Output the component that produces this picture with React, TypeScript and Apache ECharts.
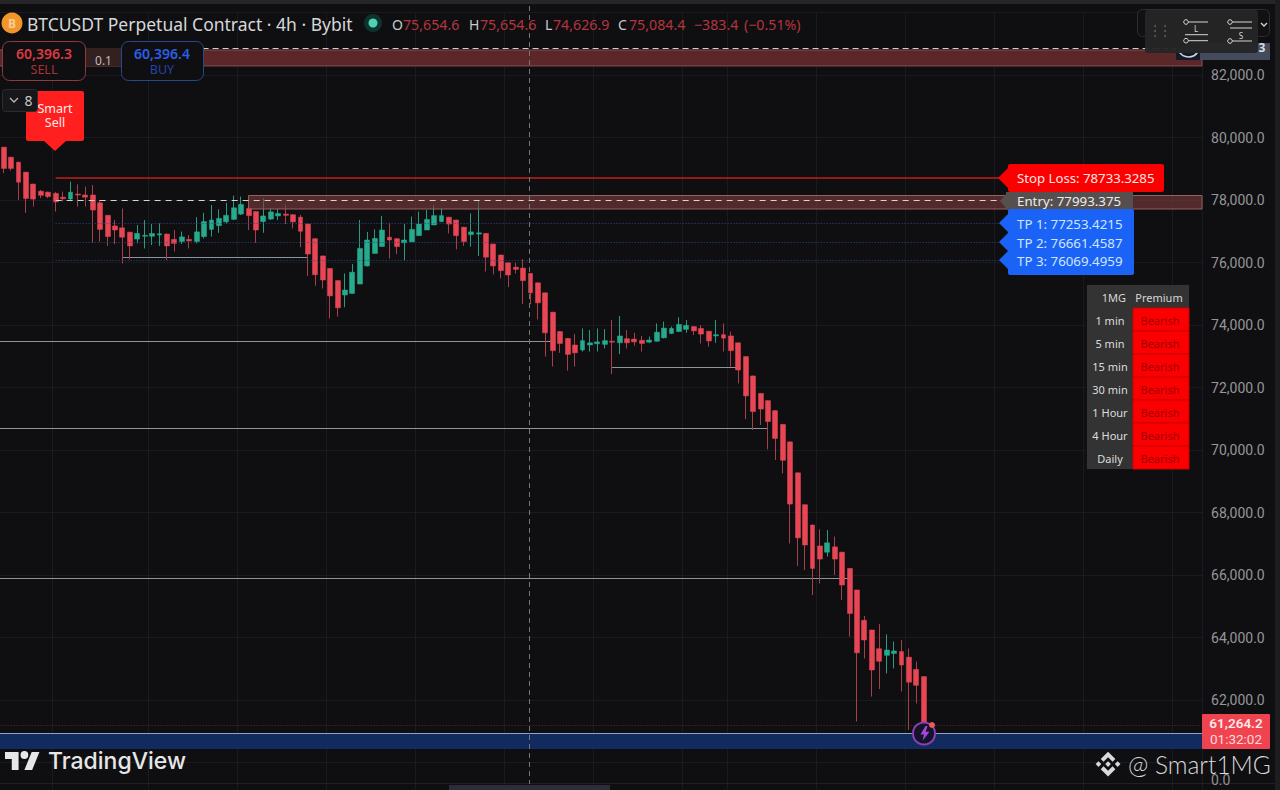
import React, { useEffect, useRef } from "react";
import * as echarts from "echarts";

const opens = [
  79690,79370,79210,78890,78510,78280,78250,78210,78090,78030,
  78190,78160,78160,77910,77510,77170,77110,76970,76750,76840,
  76840,76880,76910,76740,76670,76740,76670,76830,77060,77180,
  77300,77380,77550,77730,77630,77310,77390,77490,77550,77530,
  77450,77230,76760,76210,75810,75420,74960,75010,75310,75890,
  76290,76510,76810,76760,76630,76660,76860,77040,77200,77310,
  77450,77360,77130,76890,76910,76930,76590,76240,75990,75850,
  75820,75650,75350,75030,74410,73790,73570,73360,73200,73360,
  73400,73380,73480,73430,73560,73550,73510,73450,73480,73590,
  73730,73790,73860,73950,73890,73800,73650,73690,73650,73430,
  72990,72370,71810,71580,71260,70820,70260,69270,68250,67600,
  66930,66730,66900,66730,66210,65520,64550,64240,63640,63430,
  63490,63550,63370,62980,62750,
];
const closes = [
  79010,79010,78570,78050,78030,78150,78110,77940,78040,78250,
  78160,78090,77680,77060,76830,77040,76810,76530,76930,76870,
  76930,76920,76530,76610,76820,76690,76980,77310,77360,77410,
  77510,77750,77860,77500,77040,77490,77620,77570,77510,77300,
  77000,76270,75610,75440,74930,74550,75120,75690,76450,76720,
  76770,77040,76720,76510,76720,77060,77230,77380,77500,77500,
  77230,76860,76670,76980,76950,76170,75890,75740,75600,75780,
  75420,75030,74710,73750,73180,73410,73060,73110,73500,73430,
  73460,73500,73450,73650,73430,73460,73410,73520,73770,73900,
  73890,74020,73990,73810,73710,73490,73690,73580,73180,72560,
  71730,71230,71310,70910,70370,69670,68270,67190,66960,66210,
  66510,67030,66510,65680,64770,63510,63920,62960,63240,63600,
  63570,63120,62570,62470,61210,
];
const lows = [
  78860,78940,78000,77590,77790,78060,78060,77630,77950,77980,
  77790,77790,76620,76670,76530,76590,75970,76100,76610,76450,
  76560,76530,76080,76350,76590,76450,76610,76770,76830,76950,
  77250,77360,77520,77040,76630,76950,77360,77360,77230,77090,
  76490,75570,75260,75170,74210,74270,74570,75010,75310,75870,
  76290,76510,76130,76270,76060,76660,76850,77040,77200,77290,
  76930,76420,76530,76510,76210,75710,75620,75490,75210,75650,
  74670,74670,74180,72990,72670,73110,72540,72670,73150,73150,
  73150,73250,72430,73070,73250,73340,73150,73430,73470,73570,
  73710,73780,73750,73680,73410,73310,73430,73150,72670,72130,
  70990,70640,70800,70020,69680,69250,67010,66290,66160,65360,
  65730,66590,66000,65200,64030,61310,63330,62110,62350,62850,
  63010,62270,61040,61890,61210,
];
const highs = [
  79700,79380,79220,78900,78520,78320,78270,78260,78270,78590,
  78500,78430,78480,78000,77520,77360,77730,76980,77200,77360,
  77230,77250,76930,77040,76990,76880,77450,77590,77840,77700,
  77910,78140,78110,78130,77630,78060,77730,77730,77870,77550,
  77520,77250,76780,76220,75820,75440,75650,75950,77360,76980,
  77060,77490,77270,76780,77230,77470,77630,77680,77840,77730,
  77460,77370,77140,77570,78000,76940,76600,76250,76000,75990,
  76110,75660,75360,75040,74420,73810,73580,73710,73890,73840,
  73890,73870,74160,74290,73840,73750,73650,73630,74050,74110,
  73950,74250,74160,73970,74000,73810,74160,74050,73790,73440,
  73000,72380,71820,71590,71270,70830,70270,69280,68260,67610,
  67460,67440,67230,66740,66220,65530,64690,64250,64430,64100,
  63870,63920,63650,63230,62760,
];

// Slot 0 is an empty bar off the left edge, so level lines can start at the window edge.
const BAR_SLOTS = 163;
const BAR_STEP = 7.42;
const barLabels = Array.from({ length: BAR_SLOTS }, (_, i) => String(i));
const verticalGridSlots = [8, 21, 33, 45, 57, 69, 81, 93, 99, 111, 123, 135, 147, 159];

const stopLossLevel = 78700;
const entry = 77993.375;
const tp1 = 77253.4215;
const tp2 = 76661.4587;
const tp3 = 76069.4959;
const topDashed = 82864;
const topZone = [82800, 82290];
const entryZone = [78144, 77712];
const blueZone = [60944, 60430];
const priceDotted = 61200;
const greyLevels: [number, number, number][] = [
  [17, 42, 76176],
  [0, 75, 73488],
  [0, 104, 70693],
  [83, 100, 72634],
  [0, 115, 65912],
];

const hiddenTicks = [84000, 58000, 60000];
const tableRows = ["1 min", "5 min", "15 min", "30 min", "1 Hour", "4 Hour", "Daily"];
const tableStatus = "Bearish";
const tpLabels = ["TP 1: 77253.4215", "TP 2: 76661.4587", "TP 3: 76069.4959"];

const RED = "#e84654";
const GREEN = "#26ab8e";
const RED_WICK = "#a5404a";
const GREEN_WICK = "#2a9a82";
const FONT = '"Noto Sans", sans-serif';

echarts.graphic.registerShape(
  "tvLogo",
  echarts.graphic.extendPath("M14 22H7V11H0V4h14v18zM28 22h-8l7.5-18h8L28 22zM24 7a4 4 0 1 1-8 0a4 4 0 1 1 8 0z", {})
);
echarts.graphic.registerShape(
  "binanceLogo",
  echarts.graphic.extendPath(
    "M12 1L18.5 7.5L16 10L12 6L8 10L5.5 7.5ZM12 23L5.5 16.5L8 14L12 18L16 14L18.5 16.5ZM1 12L3.5 9.5L6 12L3.5 14.5ZM23 12L20.5 9.5L18 12L20.5 14.5ZM12 9.5L14.5 12L12 14.5L9.5 12Z",
    {}
  )
);
echarts.graphic.registerShape(
  "bolt",
  echarts.graphic.extendPath("M6 0L1 8H4.5L3 14L10 5.5H6.2L8 0Z", {})
);

const txt = (
  text: string,
  x: number,
  y: number,
  fill: string,
  size: number,
  align: string = "left",
  weight: string = "normal",
  family: string = FONT
) => ({
  type: "text",
  z: 60,
  x,
  y,
  silent: true,
  style: {
    text,
    fill,
    font: `${weight} ${size}px ${family}`,
    textAlign: align,
    textVerticalAlign: "middle",
  },
});
const box = (x: number, y: number, w: number, h: number, fill: string, stroke?: string, r = 0, z = 55) => ({
  type: "rect",
  z,
  silent: true,
  shape: { x, y, width: w, height: h, r },
  style: { fill, stroke: stroke || "none", lineWidth: stroke ? 1 : 0 },
});
const poly = (points: number[][], fill: string) => ({
  type: "polygon",
  z: 55,
  silent: true,
  shape: { points },
  style: { fill },
});
const seg = (x1: number, y1: number, x2: number, y2: number, stroke: string, lineWidth = 1, lineDash?: number[], z = 57) => ({
  type: "line",
  z,
  silent: true,
  shape: { x1, y1, x2, y2 },
  style: { stroke, lineWidth, lineDash },
});
const dot = (cx: number, cy: number, r: number, fill: string, stroke?: string, lineWidth = 1, z = 57) => ({
  type: "circle",
  z,
  silent: true,
  shape: { cx, cy, r },
  style: { fill, stroke: stroke || "none", lineWidth },
});

function buildGraphics() {
  const els: any[] = [];
  // window edges and crosshair
  els.push(box(0, 0, 1280, 4, "#262628", undefined, 0, 40));
  els.push(box(1275, 0, 5, 790, "#1d1d1f", undefined, 0, 40));
  els.push(seg(0, 783.5, 1275, 783.5, "#1f2023", 1, undefined, 40));
  els.push(seg(529.5, 6, 529.5, 784, "#74767a", 1, [5, 4], 41));
  els.push(box(449, 785, 161, 5, "#2b2e38", undefined, 0, 41));

  // header
  els.push(dot(12, 23, 10.5, "#f0962a"));
  els.push(txt("B", 12, 23.5, "#f9cd94", 12, "center", "bold"));
  els.push(txt("BTCUSDT Perpetual Contract · 4h · Bybit", 27, 24, "#d6d7da", 17.5));
  els.push(dot(373, 23, 9, "#0e332e"));
  els.push(dot(373, 23, 4.5, "#4fd0b4"));
  const ohlcLetters: [string, number][] = [["O", 392], ["H", 469], ["L", 545], ["C", 618]];
  ohlcLetters.forEach(([t, x]) => els.push(txt(t, x, 24, "#c8c9cc", 14)));
  const ohlcValues: [string, number][] = [
    ["75,654.6", 403], ["75,654.6", 480], ["74,626.9", 553], ["75,084.4", 629], ["−383.4", 694], ["(−0.51%)", 744],
  ];
  ohlcValues.forEach(([t, x]) => els.push(txt(t, x, 24, "#b5353f", 14.2)));

  // sell / buy
  els.push(box(86, 48, 35, 18, "#33201f"));
  els.push(txt("0.1", 103.5, 60, "#bcbcbc", 12, "center"));
  els.push(box(2.5, 41.5, 83, 39, "#0f0f11", "#8f3a3f", 7));
  els.push(txt("60,396.3", 44, 53, "#dd3a42", 14, "center", "600"));
  els.push(txt("SELL", 44, 69, "#a8323a", 12.5, "center"));
  els.push(box(121.5, 41.5, 82, 39, "#0f0f11", "#26488e", 7));
  els.push(txt("60,396.4", 162, 53, "#2b5fe8", 14, "center", "600"));
  els.push(txt("BUY", 162, 69, "#2742a6", 12.5, "center"));

  // smart sell flag
  els.push(box(26, 91, 58, 50, "#ff1f1f", undefined, 2));
  els.push(poly([[44, 141], [66, 141], [55, 151]], "#ff1f1f"));
  els.push(txt("Smart", 55, 108, "#ffe9e9", 12.5, "center"));
  els.push(txt("Sell", 55, 122, "#ffe9e9", 12.5, "center"));
  els.push(box(2.5, 89.5, 35, 22, "#17171a", "#2c2c2f", 3, 58));
  els.push({
    type: "polyline", z: 60, silent: true,
    shape: { points: [[10, 98], [14, 102], [18, 98]] },
    style: { stroke: "#b8b8b8", lineWidth: 1.3, fill: "none" },
  });
  els.push(txt("8", 28.5, 100, "#c8c8c8", 14, "center"));

  // trade flags
  els.push(box(1008, 164, 156, 28, "#fb0000", undefined, 2));
  els.push(poly([[998, 178], [1008, 168], [1008, 188]], "#fb0000"));
  els.push(txt("Stop Loss: 78733.3285", 1017, 178, "#ffe6e2", 13.2));
  els.push(box(1006, 192, 127, 18, "#55504f"));
  els.push(poly([[1000, 201], [1006, 194], [1006, 208]], "#55504f"));
  els.push(txt("Entry: 77993.375", 1017, 200.5, "#ececec", 13.3));
  els.push(box(1008, 209, 126, 66, "#1a63f6", undefined, 2));
  [223, 242, 260].forEach((y, i) => {
    els.push(poly([[999, y], [1008, y - 9], [1008, y + 9]], "#1a63f6"));
    els.push(txt(tpLabels[i], 1017, y + 0.5, "#cfe6ff", 13.3));
  });

  // status table
  els.push(box(1086, 284, 104, 186, "#111112", undefined, 0, 54));
  els.push(box(1087, 285, 102, 184, "#333333"));
  els.push(txt("1MG", 1126, 297, "#d8d8d8", 11, "right"));
  els.push(txt("Premium", 1159, 297, "#d8d8d8", 11, "center"));
  tableRows.forEach((row, i) => {
    const y = 308 + i * 23;
    els.push(box(1133, y, 56, 23, "#fb0000", "#cc0000"));
    els.push(txt(row, 1110, y + 12, "#dcdcdc", 11, "center"));
    els.push(txt(tableStatus, 1160, y + 12, "#a00000", 11, "center"));
  });

  // top-right toolbar
  els.push(box(1200, 43, 70, 17, "#454b5e", undefined, 0, 44));
  els.push(box(1176, 48, 24, 12, "#141a28", undefined, 0, 44));
  els.push({
    type: "arc", z: 45, silent: true,
    shape: { cx: 1188.5, cy: 46, r: 11, startAngle: 0.55, endAngle: 2.6, clockwise: true },
    style: { stroke: "#cfd3db", lineWidth: 1.6, fill: "none" },
  });
  els.push(txt("3", 1262, 47, "#dcdcdc", 12, "center", "bold"));
  els.push(box(1137.5, 9.5, 132, 27, "#111113", "#2e2e30", 5, 46));
  els.push(box(1145, 10, 113, 43, "rgba(37,37,39,0.96)", undefined, 3, 47));
  [1155, 1165].forEach((x) => [26, 31, 36].forEach((y) => els.push(dot(x, y, 1, "#5c5c60"))));
  const icon = (cx: number, cy: number) => {
    els.push(dot(cx, cy, 2.3, "none", "#d6d6d6", 1));
    els.push(seg(cx + 2.3, cy, cx + 22, cy, "#d6d6d6", 1));
  };
  icon(1186, 22); icon(1186, 40.7); icon(1230, 22); icon(1230, 41);
  els.push(txt("L", 1196, 28.5, "#d6d6d6", 8, "center"));
  els.push(seg(1185, 34.7, 1208, 34.7, "#d6d6d6", 1));
  els.push(seg(1230, 28, 1252, 28, "#d6d6d6", 1));
  els.push(txt("S", 1241, 35, "#d6d6d6", 8, "center"));
  els.push({
    type: "polyline", z: 57, silent: true,
    shape: { points: [[1261, 23], [1264, 26], [1267, 23]] },
    style: { stroke: "#d6d6d6", lineWidth: 1.3, fill: "none" },
  });

  // last price label
  els.push(box(1202, 714, 68, 35, "#ef4450", undefined, 1));
  els.push(txt("61,264.2", 1236, 723, "#ffe9ea", 13.5, "center", "600", "Roboto, sans-serif"));
  els.push(txt("01:32:02", 1236, 739, "#ffd9dc", 13.5, "center", "normal", "Roboto, sans-serif"));
  els.push(txt("0.0", 1211, 780, "#8f9196", 14, "left", "normal", "Roboto, sans-serif"));

  // alert marker
  els.push(dot(924, 733.5, 11, "#13132a", "#8d3fb5", 2));
  els.push({ type: "bolt", z: 58, silent: true, x: 919.5, y: 726, scaleX: 1, scaleY: 1.05, style: { fill: "#a847d8" } });
  els.push(dot(932, 725, 3, "#ef5a5a", undefined, 1, 59));

  // watermarks
  els.push({ type: "tvLogo", z: 60, silent: true, x: 5, y: 748, scaleX: 0.97, scaleY: 1, style: { fill: "#e6e7e9" } });
  els.push(txt("TradingView", 48, 761, "#e6e7e9", 23, "left", "500", "Inter, sans-serif"));
  els.push({ type: "binanceLogo", z: 60, silent: true, x: 1094.5, y: 750.5, scaleX: 1.13, scaleY: 1.13, style: { fill: "#d9d9d9" } });
  els.push(txt("@ Smart1MG", 1128, 764, "#d9d9d9", 24.5, "left", "300", "Lato, sans-serif"));
  return els;
}

const emptySlot = ["-", "-", "-", "-"];
const wickData = [emptySlot, ...opens.map((o, i) => [o, closes[i], lows[i], highs[i]])];
const bodyData = [emptySlot, ...opens.map((o, i) => [o, closes[i], Math.min(o, closes[i]), Math.max(o, closes[i])])];

export default function App() {
  const ref = useRef<HTMLDivElement>(null);
  useEffect(() => {
    document.body.style.margin = "0";
    const chart = echarts.init(ref.current!, undefined, { renderer: "svg" });
    chart.setOption({
      animation: false,
      backgroundColor: "#0f0f11",
      grid: {
        left: -BAR_STEP,
        top: 12.5,
        width: BAR_STEP * BAR_SLOTS,
        height: 812.5,
        outerBoundsMode: "none",
      },
      xAxis: {
        type: "category",
        data: barLabels,
        boundaryGap: true,
        axisLine: { show: false },
        axisTick: { show: false },
        axisLabel: { show: false },
        splitLine: {
          show: true,
          interval: (i: number) => verticalGridSlots.includes(i),
          lineStyle: { color: "#1a1b1e", width: 1 },
        },
      },
      yAxis: {
        type: "value",
        position: "right",
        min: 58000,
        max: 84000,
        interval: 2000,
        axisLine: { show: false },
        axisTick: { show: false },
        axisLabel: {
          margin: 9,
          color: "#94969b",
          fontFamily: "Roboto, sans-serif",
          fontSize: 14,
          formatter: (v: number) =>
            hiddenTicks.includes(v) ? "" : v.toLocaleString("en-US", { minimumFractionDigits: 1 }),
        },
        splitLine: { show: true, lineStyle: { color: "#1a1b1e", width: 1 } },
      },
      series: [
        {
          name: "BTCUSDT wicks",
          type: "candlestick",
          data: wickData,
          barWidth: 1,
          z: 2,
          silent: true,
          itemStyle: { color: GREEN_WICK, color0: RED_WICK, borderColor: GREEN_WICK, borderColor0: RED_WICK, borderWidth: 1 },
          markLine: {
            silent: true,
            z: 1,
            symbol: "none",
            label: { show: false },
            data: [
              ...greyLevels.map(([a, b, v]) => [
                { coord: [a, v], lineStyle: { color: "#8f939c", width: 1, type: "solid" } },
                { coord: [b, v] },
              ]),
              { yAxis: blueZone[0], lineStyle: { color: "#8ea3cc", width: 1, type: "solid" } },
              { yAxis: priceDotted, lineStyle: { color: "#6a2a2c", width: 1, type: [1, 2] } },
            ],
          },
          markArea: {
            silent: true,
            z: 1,
            itemStyle: { color: "#122b5e" },
            data: [[{ yAxis: blueZone[0] }, { yAxis: blueZone[1] }]],
          },
        },
        {
          name: "BTCUSDT",
          type: "candlestick",
          data: bodyData,
          barWidth: 5.4,
          z: 3,
          silent: true,
          itemStyle: { color: GREEN, color0: RED, borderColor: GREEN, borderColor0: RED, borderWidth: 0.5 },
          markLine: {
            silent: true,
            z: 5,
            symbol: "none",
            label: { show: false },
            data: [
              [
                { coord: [8, stopLossLevel], lineStyle: { color: "#c0201f", width: 1.5, type: "solid" } },
                { coord: [136, stopLossLevel] },
              ],
              [
                { coord: [8, entry], lineStyle: { color: "#d5d5d5", width: 1, type: [6, 5] } },
                { coord: [136, entry] },
              ],
              ...[tp1, tp2, tp3].map((v) => [
                { coord: [8, v], lineStyle: { color: "#2a4a90", width: 1, type: [1, 2] } },
                { coord: [136, v] },
              ]),
              { yAxis: topDashed, lineStyle: { color: "#cfcfcf", width: 1, type: [6, 4] } },
            ],
          },
          markArea: {
            silent: true,
            z: 4,
            data: [
              [
                { yAxis: topZone[0], itemStyle: { color: "#5c2728", borderColor: "#84504f", borderWidth: 1 } },
                { yAxis: topZone[1] },
              ],
              [
                { xAxis: 34, yAxis: entryZone[0], itemStyle: { color: "rgba(125,60,60,0.62)", borderColor: "#94615f", borderWidth: 1 } },
                { yAxis: entryZone[1] },
              ],
            ],
          },
        },
      ],
      graphic: { elements: buildGraphics() },
    });
    return () => chart.dispose();
  }, []);
  return <div ref={ref} style={{ width: 1280, height: 790 }} />;
}
